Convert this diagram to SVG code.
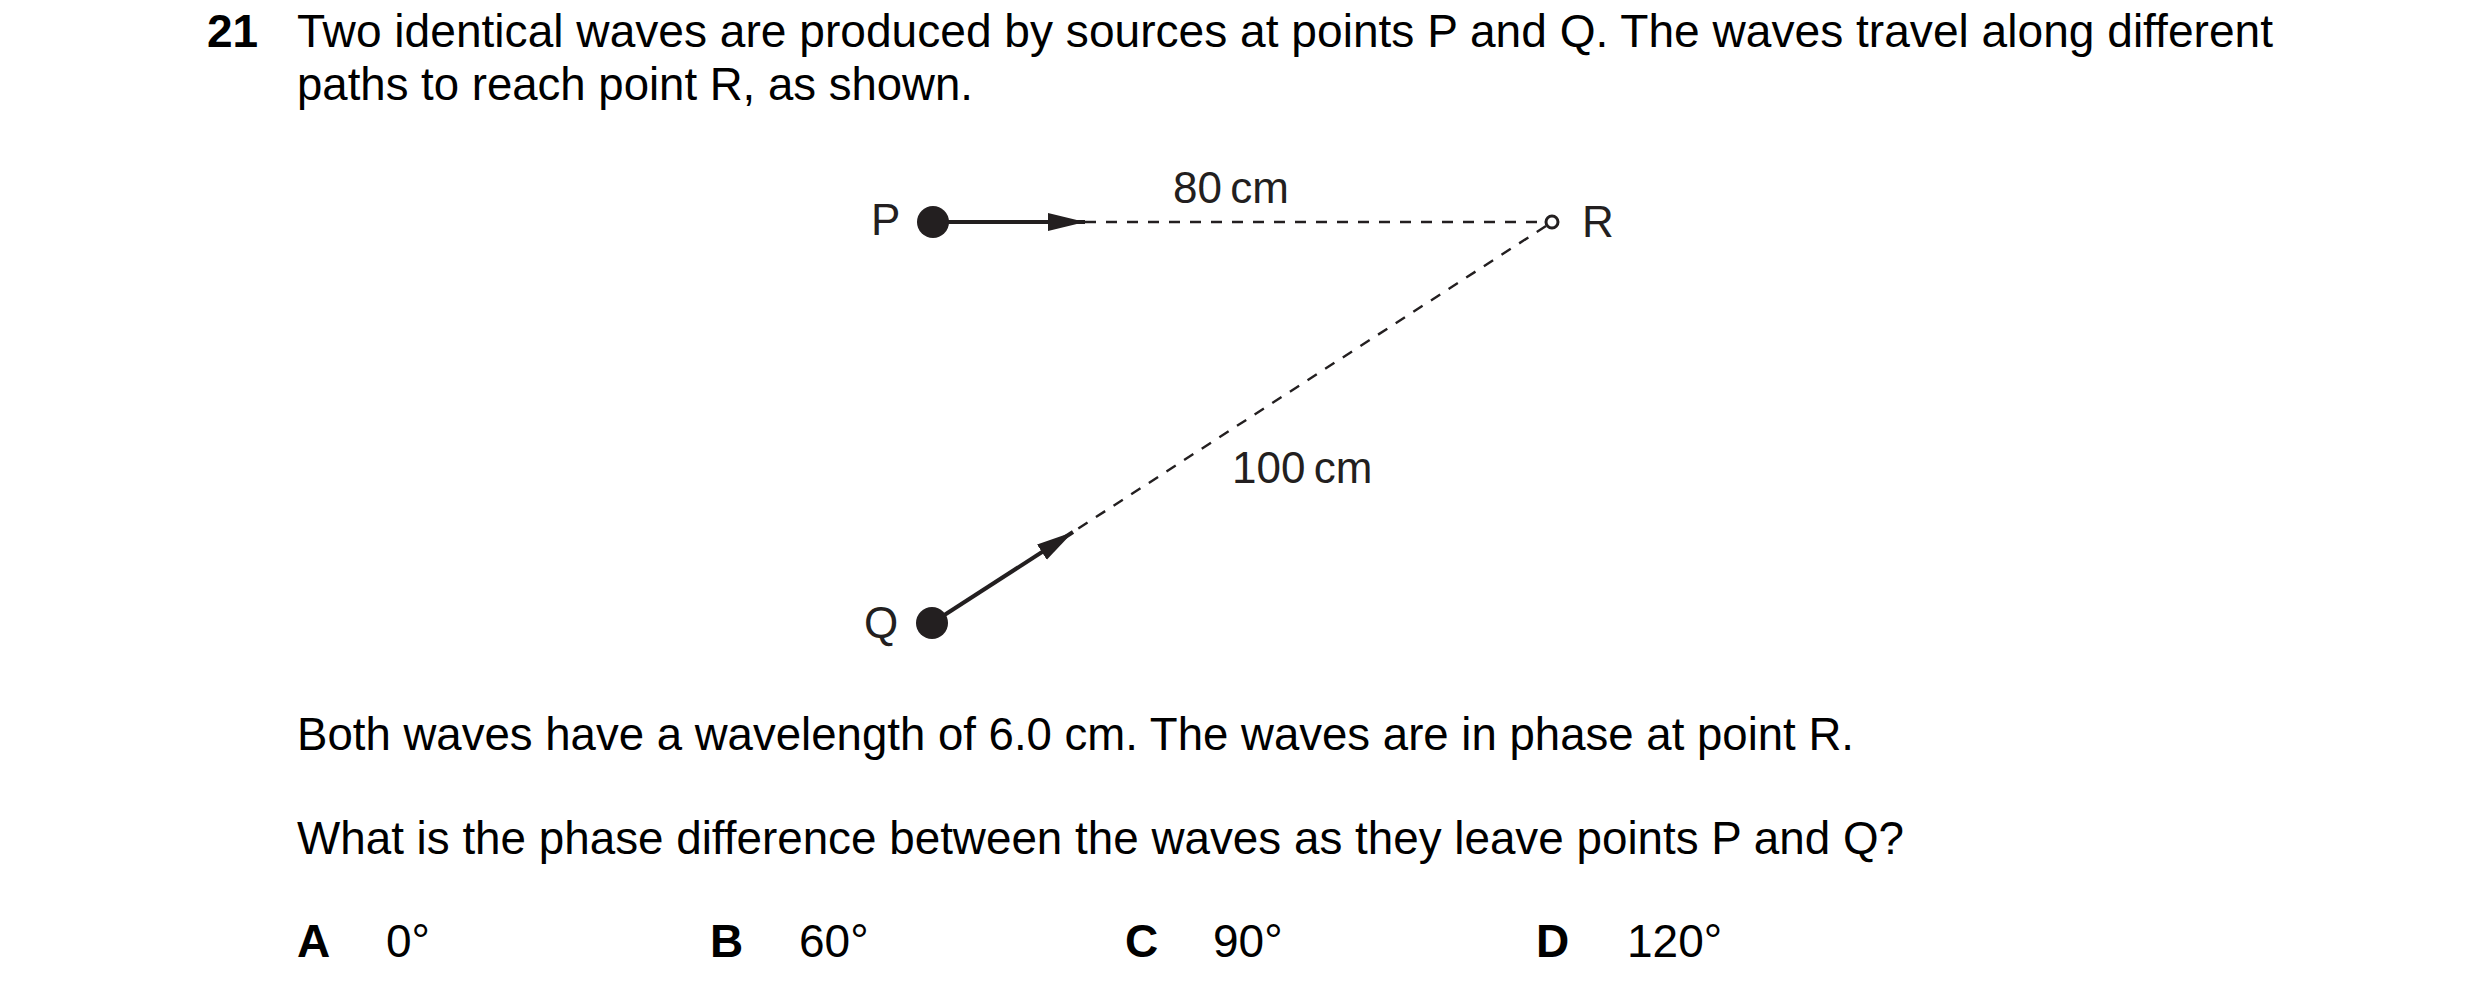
<svg xmlns="http://www.w3.org/2000/svg" width="2480" height="996" viewBox="0 0 2480 996">
  <style>
    .t { font-family: "Liberation Sans", Arial, sans-serif; font-size: 46px; fill: #000; }
    .b { font-weight: bold; }
    .lbl { font-family: "Liberation Sans", Arial, sans-serif; font-size: 44px; fill: #231f20; }
    .solid { stroke: #231f20; stroke-width: 4; fill: none; }
    .dash { stroke: #231f20; stroke-width: 2.4; stroke-dasharray: 11 10; fill: none; }
  </style>
  <defs>
    <marker id="arrow" markerUnits="userSpaceOnUse" markerWidth="38" markerHeight="20" refX="37" refY="9" orient="auto">
      <path d="M0,0 L37,9 L0,18 z" fill="#231f20"/>
    </marker>
  </defs>
  <rect width="2480" height="996" fill="#fff"/>

  <g id="question">
    <text class="t b" x="207" y="47">21</text>
    <text class="t" x="297" y="47" textLength="1976" lengthAdjust="spacingAndGlyphs">Two identical waves are produced by sources at points P and Q. The waves travel along different</text>
    <text class="t" x="297" y="100" textLength="676" lengthAdjust="spacingAndGlyphs">paths to reach point R, as shown.</text>
  </g>

  <g id="connectors">
    <line class="solid" x1="933" y1="222" x2="1085" y2="222" marker-end="url(#arrow)"/>
    <line class="dash" x1="1085" y1="222" x2="1546" y2="222"/>
    <line class="solid" x1="932" y1="623" x2="1073" y2="532" marker-end="url(#arrow)"/>
    <line class="dash" x1="1546" y1="226" x2="1076" y2="530"/>
  </g>

  <g id="node-P">
    <circle cx="933" cy="222" r="16" fill="#231f20"/>
    <text class="lbl" x="871" y="235">P</text>
  </g>
  <g id="node-Q">
    <circle cx="932" cy="623" r="16" fill="#231f20"/>
    <text class="lbl" x="864" y="638">Q</text>
  </g>
  <g id="node-R">
    <circle cx="1552" cy="222" r="6" fill="#fff" stroke="#231f20" stroke-width="3"/>
    <text class="lbl" x="1582" y="237">R</text>
  </g>
  <g id="label-80">
    <text class="lbl" x="1173" y="203">80<tspan dx="-4"> </tspan>cm</text>
  </g>
  <g id="label-100">
    <text class="lbl" x="1232" y="483">100<tspan dx="-4"> </tspan>cm</text>
  </g>

  <g id="body">
    <text class="t" x="297" y="750" textLength="1557" lengthAdjust="spacingAndGlyphs">Both waves have a wavelength of 6.0 cm. The waves are in phase at point R.</text>
    <text class="t" x="297" y="854" textLength="1607" lengthAdjust="spacingAndGlyphs">What is the phase difference between the waves as they leave points P and Q?</text>
  </g>

  <g id="options">
    <text class="t b" x="297" y="957">A</text>
    <text class="t" x="386" y="957">0°</text>
    <text class="t b" x="710" y="957">B</text>
    <text class="t" x="799" y="957">60°</text>
    <text class="t b" x="1125" y="957">C</text>
    <text class="t" x="1213" y="957">90°</text>
    <text class="t b" x="1536" y="957">D</text>
    <text class="t" x="1627" y="957">120°</text>
  </g>
</svg>
